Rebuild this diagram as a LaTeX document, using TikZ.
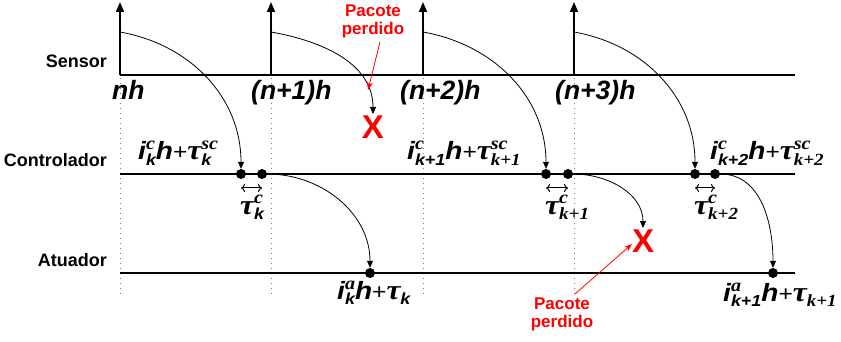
\documentclass[tikz,border=0pt]{standalone}
\usepackage{fontspec}
\setmainfont{Liberation Sans}
\newfontfamily\tms{Liberation Serif}
\usetikzlibrary{arrows.meta}
\newcommand\BI[1]{{\fontsize{25}{25}\selectfont\bfseries\itshape #1}}
\newcommand\PL{{\fontsize{22}{22}\selectfont +}}
\newcommand\TAU{{\fontsize{28}{28}\selectfont\tms\bfseries\itshape τ}}
\newcommand\SUBs[1]{{\fontsize{16}{16}\selectfont\bfseries\itshape #1}}
\newcommand\SUBt[1]{{\fontsize{17}{17}\selectfont\tms\bfseries\itshape #1}}
\newcommand\SUP[1]{{\fontsize{18}{18}\selectfont\tms\bfseries\itshape #1}}
\newcommand\ssb[2]{\setbox0=\hbox{\raisebox{10pt}{#1}}\setbox2=\hbox{\raisebox{-5.5pt}{#2}}\ifdim\wd0>\wd2\relax\rlap{\box2}\box0\else\rlap{\box0}\box2\fi}
\tikzset{
 axisline/.style={line width=1.6pt},
 tickarrow/.style={line width=1.6pt,-{Triangle[length=10pt,width=8pt]}},
 flow/.style={line width=0.8pt,-{Triangle[length=7pt,width=6pt]}},
 gridline/.style={gray,line width=1pt,dash pattern=on 1pt off 4pt},
 dotn/.style={circle,fill,inner sep=0pt,minimum size=10pt},
 side/.style={font=\fontsize{18}{18}\selectfont\bfseries,anchor=base east,inner sep=0pt},
 tlab/.style={font=\fontsize{26.5}{26.5}\selectfont\bfseries\itshape,anchor=base west,inner sep=0pt},
 lab/.style={anchor=base west,inner sep=0pt,xscale=1.12},
 lost/.style={red,font=\fontsize{17}{17}\selectfont\bfseries,anchor=base,inner sep=0pt},
 cross/.style={red,font=\fontsize{33}{33}\selectfont\bfseries,inner sep=0pt},
 redarr/.style={red,line width=0.8pt,-{Stealth[length=8pt,width=6pt]}},
 dur/.style={line width=1pt,{To[length=4pt,width=8pt]}-{To[length=4pt,width=8pt]}}
}
\begin{document}
\begin{tikzpicture}[x=1pt,y=-1pt]
\useasboundingbox (0,0) rectangle (841,342);
% dotted grid
\foreach \x/\n in {120/a,271/b,423/c,574/d}{
  \coordinate (gt\n) at (\x,78);
  \coordinate (gb\n) at (\x,296);
  \draw[gridline] (gt\n) -- (gb\n);
}
% axes
\coordinate (s0) at (120,75); \coordinate (s9) at (795,75);
\coordinate (c0) at (120,174); \coordinate (c9) at (795,174);
\coordinate (a0) at (120,273); \coordinate (a9) at (795,273);
\draw[axisline] (s0) -- (s9);
\draw[axisline] (c0) -- (c9);
\draw[axisline] (a0) -- (a9);
% side labels
\node[side] (lsens) at (107,68) {Sensor};
\node[side] (lctrl) at (107,167) {Controlador};
\node[side] (lact) at (107,266) {Atuador};
% sampling ticks
\foreach \x/\n in {120/a,271/b,423/c,574/d}{
  \coordinate (tb\n) at (\x,75);
  \coordinate (tt\n) at (\x,2);
  \draw[tickarrow] (tb\n) -- (tt\n);
  \coordinate (st\n) at (\x,32);
}
% time labels
\node[tlab] (t0) at (112,100) {nh};
\node[tlab] (t1) at (251,100) {(n+1)h};
\node[tlab] (t2) at (400,100) {(n+2)h};
\node[tlab] (t3) at (555,100) {(n+3)h};
% dots
\node[dotn] (d1) at (241,174) {};
\node[dotn] (d2) at (262,174) {};
\node[dotn] (d3) at (546,174) {};
\node[dotn] (d4) at (568,174) {};
\node[dotn] (d5) at (695,174) {};
\node[dotn] (d6) at (715,174) {};
\node[dotn] (e1) at (370,273) {};
\node[dotn] (e2) at (773,273) {};
% lost packets
\node[cross] (x1) at (373,127) {X};
\node[cross] (x2) at (643,241) {X};
\coordinate (x1t) at (373,114);
\coordinate (x2t) at (643,228);
% flows
\draw[flow] (sta) to[out=-10,in=90] (d1.north);
\draw[flow] (stb) to[out=-10,in=90] (x1t);
\draw[flow] (stc) to[out=-10,in=90] (d3.north);
\draw[flow] (std) to[out=-10,in=90] (d5.north);
\draw[flow] (d2.east) to[out=0,in=90] (e1.north);
\draw[flow] (d4.east) to[out=0,in=90] (x2t);
\draw[flow] (d6.east) to[out=0,in=90] (e2.north);
% durations
\coordinate (u1a) at (241,188); \coordinate (u1b) at (262,188);
\coordinate (u2a) at (546,188); \coordinate (u2b) at (568,188);
\coordinate (u3a) at (695,188); \coordinate (u3b) at (715,188);
\draw[dur] (u1a) -- (u1b);
\draw[dur] (u2a) -- (u2b);
\draw[dur] (u3a) -- (u3b);
% labels
\node[lab] (l1) at (138,160) {\BI{i}\ssb{\SUP{c}}{\SUBs{k}}\BI{h}\PL\TAU\ssb{\SUP{sc}}{\SUBs{k}}};
\node[lab] (l2) at (407,160) {\BI{i}\ssb{\SUP{c}}{\SUBs{k+1}}\BI{h}\PL\TAU\ssb{\SUP{sc}}{\SUBt{k+1}}};
\node[lab] (l3) at (710,160) {\BI{i}\ssb{\SUP{c}}{\SUBs{k+2}}\BI{h}\PL\TAU\ssb{\SUP{sc}}{\SUBt{k+2}}};
\node[lab] (m1) at (240,214) {\TAU\ssb{\SUP{c}}{\SUBs{k}}};
\node[lab] (m2) at (545,214) {\TAU\ssb{\SUP{c}}{\SUBt{k+1}}};
\node[lab] (m3) at (694,214) {\TAU\ssb{\SUP{c}}{\SUBt{k+2}}};
\node[lab] (n1) at (337,299) {\BI{i}\ssb{\SUP{a}}{\SUBs{k}}\BI{h}\PL\TAU\ssb{}{\SUBs{k}}};
\node[lab] (n2) at (723,301) {\BI{i}\ssb{\SUP{a}}{\SUBs{k+1}}\BI{h}\PL\TAU\ssb{}{\SUBt{k+1}}};
% red notes
\node[lost] (p1a) at (373,17) {Pacote};
\node[lost] (p1b) at (373,35) {perdido};
\coordinate (r1s) at (380,42); \coordinate (r1e) at (368,90);
\draw[redarr] (r1s) -- (r1e);
\node[lost] (p2a) at (562,309) {Pacote};
\node[lost] (p2b) at (562,327) {perdido};
\coordinate (r2s) at (575,294); \coordinate (r2e) at (632,244);
\draw[redarr] (r2s) -- (r2e);
\end{tikzpicture}
\end{document}
